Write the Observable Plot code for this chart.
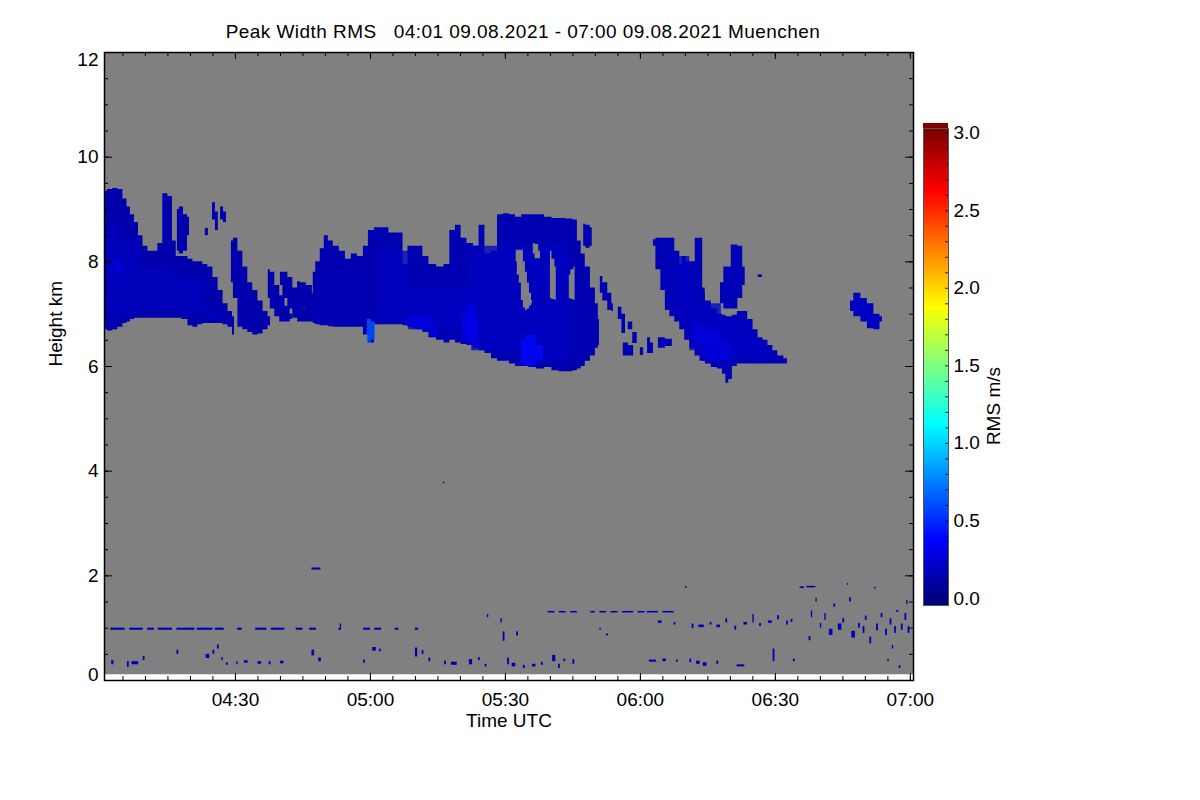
<!DOCTYPE html>
<html>
<head>
<meta charset="utf-8">
<script src="https://cdn.jsdelivr.net/npm/d3@7"></script>
<script src="https://cdn.jsdelivr.net/npm/@observablehq/plot@0.6"></script>
<style>
  html, body { margin: 0; padding: 0; background: white; }
  #wrap { position: relative; width: 1200px; height: 800px; font-family: "Liberation Sans", Arial, Helvetica, sans-serif; }
  #title { position: absolute; left: 0; width: 1046px; top: 21px; text-align: center; font-size: 19px; white-space: pre; color: black; letter-spacing: 0.45px; }
  #main, #cbar { position: absolute; top: 0; }
  #main { left: 0; }
  #cbar { left: 880px; }
</style>
</head>
<body>
<div id="wrap">
  <div id="title">Peak Width RMS   04:01 09.08.2021 - 07:00 09.08.2021 Muenchen</div>
  <div id="main"></div>
  <div id="cbar"></div>
</div>
<script>
// ---------------- data (minutes after 04:00 UTC, heights in km, RMS in m/s) ----------------
const scanStart = 0.9, scanEnd = 180.7;      // minutes after 04:00
const gateMin = 0.11, gateMax = 12;          // km
const heightTicks = [0, 2, 4, 6, 8, 10, 12];
const timeTickLabels = ["04:30", "05:00", "05:30", "06:00", "06:30", "07:00"];
const rmsTicks = [0, 0.5, 1.0, 1.5, 2.0, 2.5, 3.0];

// cloud features: [minute, base km, top km]
const cloudA = [[0.9,6.7,9.35],[2.2,6.68,9.38],[3.3,6.7,9.4],[4.4,6.75,9.38],[5.6,6.82,9.2],[6.2,6.85,9.05],[7.1,6.9,8.9],[8,6.92,8.75],[8.9,6.92,8.5],[10,6.92,8.3],[11.1,6.92,8.2],[12.2,6.92,8.2],[13.3,6.92,8.35],[14.4,6.92,9.3],[15.6,6.92,9.25],[16.4,6.92,8.4],[17.3,6.92,8.1],[18.9,6.9,8.1],[20,6.78,8.05],[21.1,6.75,8.0],[22.2,6.8,8.0],[23.3,6.82,7.95],[24.4,6.82,7.9],[25.6,6.82,7.7],[26.7,6.82,7.45],[27.8,6.8,7.2],[28.9,6.75,7.05],[29.8,6.6,6.95]];
const cloudD = [[17.1,8.2,9.0],[18,8.15,9.05],[18.9,8.2,8.9],[19.8,8.5,8.85]];
const cloudC1 = [[23.3,8.5,8.64],[24,8.5,8.64]];
const cloudC2 = [[24.9,8.8,9.13],[26.2,8.6,8.95]];
const cloudC3 = [[26.7,8.8,9.05],[28,8.75,8.95]];
const cloudB = [[29.1,7.6,8.4],[30,7.3,8.45],[31.1,6.75,8.2],[32.2,6.7,7.9],[33.3,6.65,7.6],[34.4,6.6,7.45],[35.6,6.62,7.25],[36.7,6.7,7.05],[37.8,6.78,6.95]];
const cloudE1 = [[37.3,7.3,7.85],[38.2,7.1,7.8],[39.3,6.95,7.55],[40.4,6.85,7.35],[41.6,6.85,7.15],[42.7,6.9,7.0]];
const cloudE2 = [[40,7.55,7.8],[41.1,7.3,7.8],[42.2,7.1,7.7],[43.3,6.92,7.5],[44.4,6.85,7.3],[45.6,6.85,7.1],[47.1,6.85,7.0]];
const cloudE3 = [[43.8,7.3,7.62],[45.1,7.1,7.6],[46.4,6.9,7.55],[47.8,6.85,7.4]];
const cloudF = [[47.3,6.82,7.8],[48.4,6.8,8.0],[49.3,6.78,8.25],[50.2,6.78,8.5],[51.1,6.76,8.4],[52.4,6.75,8.3],[53.8,6.75,8.2],[55.1,6.75,8.05],[56.4,6.75,8.15],[57.8,6.75,8.1],[59.1,6.6,8.3],[60,6.45,8.6],[61.8,6.8,8.65],[63.3,6.8,8.65],[64.9,6.8,8.55],[66.7,6.8,8.55],[67.8,6.78,7.95],[68.9,6.75,8.3],[70,6.72,8.3],[71.1,6.7,8.3],[72.2,6.65,8.1],[73.8,6.55,7.95],[75.6,6.5,7.9],[77.1,6.45,7.95],[78.2,6.5,8.6],[79.6,6.45,8.7],[80.7,6.42,8.45],[82.2,6.4,8.35],[83.6,6.35,8.3],[84.7,6.3,8.7],[86.2,6.25,8.15],[87.6,6.15,8.2],[88.9,6.1,8.9],[90.2,6.1,8.92],[91.6,6.05,8.9],[92.9,6.0,8.85],[94.4,6.0,8.9],[96,5.98,8.9],[97.8,5.95,8.9],[99.6,5.98,8.85],[101.1,5.92,8.83],[102.7,5.9,8.83],[104.4,5.9,8.82],[105.6,5.92,8.8],[106.4,5.95,8.4],[107.3,6.0,8.15],[108.2,6.1,7.9],[109.6,6.2,7.5],[110.4,6.35,7.2],[110.9,6.4,6.9]];
const cloudH = [[107.4,8.3,8.72],[108.4,8.26,8.7],[109.3,8.3,8.65]];
const cloudI1 = [[111.1,7.4,7.72],[112.2,7.25,7.6],[113.3,7.07,7.4],[114,7.05,7.2]];
const cloudI2 = [[115.1,6.9,7.13],[116.7,6.63,7.0]];
const cloudI3 = [[117.3,6.7,6.85],[119.3,6.44,6.65]];
const cloudI4 = [[116.2,6.2,6.45],[118.5,6.2,6.4]];
const cloudI5 = [[120,6.21,6.36],[120.7,6.21,6.36]];
const cloudI6 = [[121.6,6.25,6.55],[122.9,6.25,6.45]];
const cloudI7 = [[124,6.35,6.55],[127.1,6.38,6.52]];
const cloudJ = [[122.9,8.3,8.42],[124,7.85,8.45],[125.1,7.45,8.45],[126,7.07,8.45],[127.1,6.95,8.45],[128.2,6.85,8.2],[129.3,6.7,7.95],[130.4,6.5,7.8],[131.6,6.35,7.65],[132.7,6.2,7.5],[133.8,6.1,7.4],[135.1,6.05,7.25],[136.4,5.98,7.1],[137.8,5.95,7.0],[138.7,5.85,6.98],[139.3,5.68,6.95],[140,5.75,6.95],[140.9,6.0,6.98],[142.2,6.05,7.05],[143.3,6.05,7.05],[144.4,6.05,6.9],[145.6,6.05,6.7],[146.7,6.05,6.55],[147.8,6.05,6.5],[148.9,6.05,6.4],[150,6.05,6.3],[151.1,6.05,6.2],[152.7,6.05,6.15]];
const cloudJ1 = [[129.3,7.6,8.1],[131.1,7.3,8.0],[133.3,7.0,8.45],[134.4,6.9,7.5]];
const cloudJ2 = [[137.8,7.2,7.6],[139.3,7.1,7.9],[141.1,7.1,8.32],[142.2,7.3,8.3],[143.3,7.55,7.9]];
const cloudJ3 = [[146.2,7.7,7.75],[147.1,7.7,7.75]];
const cloudK = [[166.7,7.05,7.25],[168.2,6.95,7.4],[169.8,6.85,7.3],[171.1,6.72,7.2],[172.7,6.7,7.0],[173.8,6.85,6.95]];

// slightly higher-RMS cores and patches
const coreA = [[1.5,6.9,8.7],[6,7.0,8.4],[12,7.05,7.9],[20,7.0,7.7],[27,6.9,7.1]];
const coreF = [[62,6.9,8.2],[75,6.7,7.5],[90,6.3,8.3],[104,6.1,8.3]];
const coreJ = [[128,7.0,8.1],[134,6.3,7.2],[142,6.15,6.9],[148,6.1,6.45]];
const bright1 = [[59.3,6.45,6.9],[61.1,6.5,6.85]];
const bright2 = [[93.5,6.05,6.5],[95.5,6.0,6.6],[98.5,6.1,6.4]];
const bright3 = [[80.5,6.5,7.0],[82.5,6.45,7.2],[84,6.4,6.9]];
const bright4 = [[68,6.78,6.95],[72,6.7,6.95],[75,6.55,6.8]];
const bright5 = [[3,7.8,8.05],[5,7.75,8.0]];
const bright6 = [[132,6.4,6.8],[136,6.1,6.7],[140,6.1,6.5]];

// no-signal holes inside clouds
const gap1 = [[92.4,8.0,8.22],[92.9,7.75,8.22],[93.3,7.59,8.22],[93.8,7.26,8.22],[94.2,7.12,8.0],[94.7,7.07,7.8],[95.1,7.1,7.59],[95.6,7.15,7.4],[96,7.2,7.26]];
const gap2 = [[96.2,8.15,8.35],[97,8.06,8.33],[97.8,8.06,8.2]];
const gap3 = [[100,7.3,8.2],[100.7,7.28,8.05],[101.3,7.26,7.9]];
const gap4 = [[104.2,7.3,7.75],[104.9,7.28,7.85],[105.5,7.26,7.9]];

// features and their RMS values (m/s)
const cloudFeatures = [cloudA, cloudD, cloudC1, cloudC2, cloudC3, cloudB, cloudE1, cloudE2, cloudE3, cloudF, cloudH,
  cloudI1, cloudI2, cloudI3, cloudI4, cloudI5, cloudI6, cloudI7, cloudJ, cloudJ1, cloudJ2, cloudJ3, cloudK];
const cloudRms = [0.13, 0.13, 0.14, 0.14, 0.14, 0.13, 0.14, 0.14, 0.14, 0.15, 0.15, 0.15, 0.15, 0.15, 0.15, 0.15, 0.15, 0.15, 0.16, 0.16, 0.16, 0.15, 0.2];
const brightFeatures = [coreA, coreF, coreJ, bright1, bright2, bright3, bright4, bright5, bright6];
const brightRms = [0.19, 0.2, 0.2, 0.65, 0.4, 0.33, 0.3, 0.28, 0.28];
const gapFeatures = [gap1, gap2, gap3, gap4];

// small echoes in the boundary layer: [minute start, minute end, km low, km high]
const speckles = [
  [2.3,5.5,0.96,1.0],[6.5,9.5,0.96,1.0],[10.5,12,0.96,1.0],[12.8,16,0.96,1.0],[17,21,0.96,1.0],[21.5,25,0.96,1.0],[25.5,27.5,0.96,1.0],
  [30.5,31.5,0.96,1.0],[34.5,37,0.96,1.0],[38,41,0.96,1.0],[43.5,45,0.96,1.0],[46.5,48,0.96,1.0],[53,53.6,0.96,1.0],[58.5,60,0.96,1.0],
  [61,62.5,0.96,1.0],[65.5,66.3,0.96,1.0],[70,70.7,0.96,1.0],[53.3,53.6,1.0,1.08],
  [2.5,3.0,0.3,0.38],[6,6.4,0.25,0.36],[7,8.5,0.3,0.36],[9.5,9.9,0.38,0.46],[17,17.4,0.5,0.58],[23.5,24.3,0.42,0.5],[26,26.4,0.6,0.68],
  [25,25.4,0.5,0.58],[27,27.3,0.38,0.44],[28,28.4,0.29,0.34],[30.3,30.6,0.3,0.36],[32,32.8,0.33,0.38],[35,35.8,0.31,0.36],[37.5,37.9,0.3,0.36],
  [40,40.8,0.32,0.37],[47,47.6,0.47,0.58],[48.5,49.1,0.36,0.43],[58.5,58.9,0.33,0.39],[60.5,61.3,0.56,0.63],[62,62.4,0.55,0.6],
  [70,70.5,0.45,0.62],[71.5,71.9,0.5,0.57],[73,73.4,0.36,0.43],[76.5,76.9,0.3,0.37],[78,79.3,0.29,0.35],[82,82.7,0.3,0.4],[84,84.4,0.38,0.44],
  [85.5,85.9,0.26,0.31],[90.5,90.9,0.3,0.43],[91.5,92.3,0.26,0.33],[94,94.4,0.23,0.29],[96,96.8,0.26,0.31],[98,98.4,0.29,0.35],
  [100.5,101.2,0.36,0.48],[101.8,102.2,0.23,0.31],[103,103.4,0.36,0.41],[105,105.4,0.31,0.4],[122,123.6,0.35,0.39],[125,125.8,0.36,0.41],
  [128,128.4,0.35,0.39],[131,131.4,0.34,0.41],[132.5,133.3,0.31,0.37],[134,134.8,0.27,0.34],[137,137.4,0.31,0.37],[141.5,143.2,0.26,0.3],
  [149.5,149.9,0.36,0.6],[154,154.4,0.36,0.41],[177.5,177.9,0.23,0.28],
  [99.5,101,1.29,1.32],[102,103.5,1.29,1.32],[104.5,106,1.29,1.32],[109,110,1.29,1.32],[111,112.5,1.29,1.32],[113.5,115,1.29,1.32],
  [116,118.5,1.29,1.32],[119.5,121,1.29,1.32],[121.5,124,1.29,1.32],[125,127.5,1.29,1.32],[86,86.3,1.2,1.26],
  [89.5,89.9,0.75,0.93],[92.5,92.9,0.85,0.93],[89,89.3,1.1,1.18],[111,111.3,0.96,1.0],[112.5,112.9,0.85,0.89],
  [124,124.8,1.09,1.14],[127.5,127.9,1.06,1.11],[130,130.4,1.76,1.79],[131.5,131.9,0.99,1.08],[133,134.2,1.01,1.06],[135.5,135.9,1.06,1.11],
  [137,137.8,1.01,1.06],[139,139.4,1.1,1.18],[141,141.4,0.96,1.04],[143,143.8,1.06,1.11],[145,145.3,1.1,1.26],[146.5,146.9,1.03,1.09],
  [148.5,149.3,1.09,1.14],[150.5,150.9,1.16,1.24],[152.5,152.9,1.06,1.14],[153.5,153.9,1.11,1.17],[155.5,156.5,1.76,1.79],[157,159,1.77,1.8],
  [158,158.3,1.2,1.33],[159,159.3,1.5,1.57],[157.5,157.9,0.76,0.84],[160,160.3,1.0,1.09],[161,161.3,1.15,1.28],[162,162.8,0.86,0.98],
  [163,163.4,1.4,1.46],[164,164.8,0.96,1.08],[165,165.4,1.1,1.18],[166,166.3,1.82,1.85],[166.5,166.9,1.5,1.58],[167,167.8,0.81,0.94],
  [168.5,168.9,1.0,1.09],[169.5,169.9,0.9,1.03],[170,170.4,1.15,1.23],[171,171.4,0.7,0.83],[172,172.4,1.75,1.78],[172.5,172.9,0.95,1.08],
  [173.5,173.9,1.2,1.28],[174.5,174.9,0.86,0.98],[175.5,175.9,1.06,1.18],[176.5,176.9,0.9,1.03],[177,177.4,1.3,1.34],[178,178.4,0.96,1.08],
  [178.8,179.2,1.15,1.28],[179.5,179.9,0.9,1.03],[176,176.3,0.6,0.67],[175,175.3,0.36,0.41],[179.2,179.5,1.45,1.53],
  [47,49,2.11,2.15],[76.2,76.5,3.76,3.79]
];
const speckleRms = 0.16;

// ---------------- helpers ----------------
const T0 = Date.UTC(2021, 7, 9, 4, 0);
const toTime = m => new Date(T0 + m * 60000);
const parseHM = s => { const [h, m] = s.split(":").map(Number); return new Date(Date.UTC(2021, 7, 9, h, m)); };

function featureRows(features, values) {
  const rows = [];
  features.forEach((f, i) => f.forEach(p => rows.push({id: i, t: toTime(p[0]), lo: p[1], hi: p[2], v: values ? values[i] : 0})));
  return rows;
}
const cloudRows = featureRows(cloudFeatures, cloudRms);
const brightRows = featureRows(brightFeatures, brightRms);
const gapRows = featureRows(gapFeatures, null);
const speckRows = speckles.map(s => ({t1: toTime(s[0]), t2: toTime(s[1]), lo: s[2], hi: s[3], v: speckleRms}));

const jet = t => {
  const c = x => Math.max(0, Math.min(1, x));
  const r = c(1.5 - Math.abs(4 * t - 3)), g = c(1.5 - Math.abs(4 * t - 2)), b = c(1.5 - Math.abs(4 * t - 1));
  return `rgb(${Math.round(r * 255)},${Math.round(g * 255)},${Math.round(b * 255)})`;
};
const colorScale = {type: "linear", domain: [0, 3], interpolate: jet, clamp: true};

const majorTimes = timeTickLabels.map(parseHM);
const minorTimes = d3.utcMinute.every(5).range(toTime(scanStart), toTime(scanEnd));
const minorHeights = d3.range(0, 12.01, 0.5);

const W = 1200, H = 800, mL = 104, mR = 287, mT = 52, mB = 120;
const pw = W - mL - mR, ph = H - mT - mB;
const gray = "#808080";
const font = "'Liberation Sans', Arial, Helvetica, sans-serif";

const main = Plot.plot({
  width: W, height: H,
  marginLeft: mL, marginRight: mR, marginTop: mT, marginBottom: mB,
  style: {fontFamily: font, fontSize: "19px", background: "transparent", color: "black"},
  x: {type: "utc", domain: [toTime(scanStart), toTime(scanEnd)]},
  y: {domain: [0, 12]},
  color: colorScale,
  marks: [
    Plot.rect([0], {x1: () => toTime(scanStart), x2: () => toTime(scanEnd), y1: () => gateMin, y2: () => gateMax, fill: gray}),
    Plot.areaY(cloudRows, {x: "t", y1: "lo", y2: "hi", z: "id", fill: "v", curve: "step"}),
    Plot.areaY(brightRows, {x: "t", y1: "lo", y2: "hi", z: "id", fill: "v", curve: "step", fillOpacity: 0.75}),
    Plot.areaY(gapRows, {x: "t", y1: "lo", y2: "hi", z: "id", fill: gray, curve: "step"}),
    Plot.rect(speckRows, {x1: "t1", x2: "t2", y1: "lo", y2: "hi", fill: "v"}),
    // inward tick marks on all four sides
    Plot.tickX(majorTimes, {x: d => d, stroke: "black", insetTop: ph - 7}),
    Plot.tickX(majorTimes, {x: d => d, stroke: "black", insetBottom: ph - 7}),
    Plot.tickX(minorTimes, {x: d => d, stroke: "black", insetTop: ph - 4}),
    Plot.tickX(minorTimes, {x: d => d, stroke: "black", insetBottom: ph - 4}),
    Plot.tickY(heightTicks, {y: d => d, stroke: "black", insetRight: pw - 8}),
    Plot.tickY(heightTicks, {y: d => d, stroke: "black", insetLeft: pw - 8}),
    Plot.tickY(minorHeights, {y: d => d, stroke: "black", insetRight: pw - 4}),
    Plot.tickY(minorHeights, {y: d => d, stroke: "black", insetLeft: pw - 4}),
    Plot.frame({stroke: "black", strokeWidth: 1.5}),
    Plot.axisX({ticks: majorTimes, tickFormat: d3.utcFormat("%H:%M"), tickSize: 0, tickPadding: 12, label: null, fontSize: 19}),
    Plot.axisY({ticks: heightTicks.filter(d => d > 0 && d < 12), tickSize: 0, tickPadding: 6, label: null, fontSize: 19}),
    Plot.axisY({ticks: [12], tickSize: 0, tickPadding: 6, label: null, fontSize: 19, dy: 7}),
    Plot.axisY({ticks: [0], tickSize: 0, tickPadding: 6, label: null, fontSize: 19, dy: -6}),
    Plot.text(["Time UTC"], {frameAnchor: "bottom", dy: 46, fontSize: 19, fill: "black"}),
    Plot.text(["Height km"], {frameAnchor: "left", dx: -49, rotate: -90, fontSize: 19, fill: "black"})
  ]
});
document.getElementById("main").appendChild(main);

// ---------------- colour bar ----------------
const cbStep = 0.0125;
const cbLevels = d3.range(-0.05, 3.04, cbStep);
const cbMinor = d3.range(0, 3.001, 0.1);
const cbW = 160, cbL = 43, cbR = 92, cbT = 128, cbB = 195;
const cbar = Plot.plot({
  width: cbW, height: H,
  marginLeft: cbL, marginRight: cbR, marginTop: cbT, marginBottom: cbB,
  style: {fontFamily: font, fontSize: "19px", background: "transparent", color: "black"},
  x: {domain: [0, 1], axis: null},
  y: {domain: [-0.045, 3.03]},
  color: colorScale,
  marks: [
    Plot.rect(cbLevels, {x1: () => 0, x2: () => 1, y1: d => d, y2: d => d + cbStep * 2, fill: d => d + cbStep / 2}),
    Plot.tickY(cbMinor, {y: d => d, stroke: "black", strokeOpacity: 0.8, insetLeft: (cbW - cbL - cbR) - 3}),
    Plot.frame({stroke: "#555", strokeWidth: 1}),
    Plot.axisY({anchor: "right", ticks: rmsTicks, tickFormat: d3.format(".1f"), tickSize: 0, tickPadding: 5, label: null, fontSize: 19}),
    Plot.text(["RMS m/s"], {frameAnchor: "right", dx: 45, rotate: -90, fontSize: 19, fill: "black"})
  ]
});
document.getElementById("cbar").appendChild(cbar);
</script>
</body>
</html>
